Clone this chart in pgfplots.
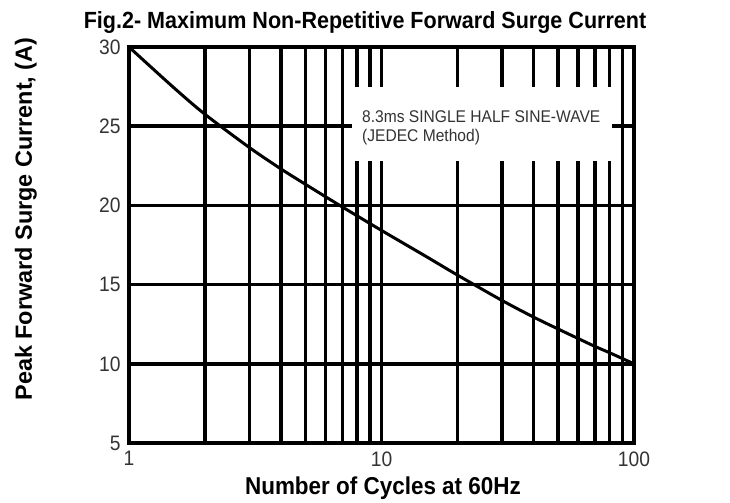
\documentclass[border=0pt]{standalone}
\usepackage{pgfplots}
\pgfplotsset{compat=1.18}
\usepackage{fontspec}
\setmainfont[FakeStretch=0.92]{Liberation Sans}
\newfontfamily\ylabfont{Liberation Sans}
\definecolor{tickgray}{HTML}{333333}
\begin{document}
\begin{tikzpicture}
\begin{axis}[
  at={(0,0)}, anchor=south west,
  scale only axis, width=505bp, height=396bp,
  xmode=log, xmin=1, xmax=100, ymin=5, ymax=30,
  ytick={5,10,15,20,25,30},
  xtick={1,10,100}, xticklabels={1,10,100},
  minor xtick={2,3,4,5,6,7,8,9,20,30,40,50,60,70,80,90},
  xmajorgrids, xminorgrids, ymajorgrids,
  major grid style={black, line width=3.6bp},
  minor grid style={black, line width=3.6bp},
  axis line style={line width=4.2bp},
  major tick length=0pt, minor tick length=0pt,
  /pgf/number format/assume math mode=true,
  ticklabel style={font=\fontsize{21}{21}\selectfont, text=tickgray},
  xticklabel style={yshift=-5bp},
  yticklabel style={xshift=-5bp},
]
\addplot[black, line width=3bp, smooth] coordinates {
 (1,30) (1.5,27.45) (2,25.75) (3,23.65) (4,22.3) (5,21.33) (6,20.55) (7,19.9)
 (10,18.42) (15,16.78) (20,15.6) (30,14.0) (40,12.95) (50,12.2) (60,11.6)
 (70,11.1) (80,10.7) (90,10.33) (100,10.0)
};
\fill[white] (rel axis cs:0.4416,0.712) rectangle (rel axis cs:0.9564,0.899);
\node[anchor=base west, font=\fontsize{17}{17}\selectfont, text=tickgray, inner sep=0pt]
  at (rel axis cs:0.4614,0.8093) {8.3ms SINGLE HALF SINE-WAVE};
\node[anchor=base west, font=\fontsize{17}{17}\selectfont, text=tickgray, inner sep=0pt]
  at (rel axis cs:0.4614,0.7626) {(JEDEC Method)};
\end{axis}
\node[anchor=base, font=\bfseries\fontsize{23.5}{23.5}\selectfont, inner sep=0pt] at (236bp,414bp)
  {Fig.2- Maximum Non-Repetitive Forward Surge Current};
\node[anchor=base, font=\bfseries\fontsize{24.5}{24.5}\selectfont, inner sep=0pt] at (254bp,-51bp)
  {Number of Cycles at 60Hz};
\node[anchor=base, rotate=90, font=\ylabfont\bfseries\fontsize{23.5}{23.5}\selectfont, inner sep=0pt] at (-97bp,224bp)
  {Peak Forward Surge Current, (A)};
\pgfresetboundingbox
\useasboundingbox (-129bp,-60bp) rectangle (601bp,443bp);
\end{tikzpicture}
\end{document}
